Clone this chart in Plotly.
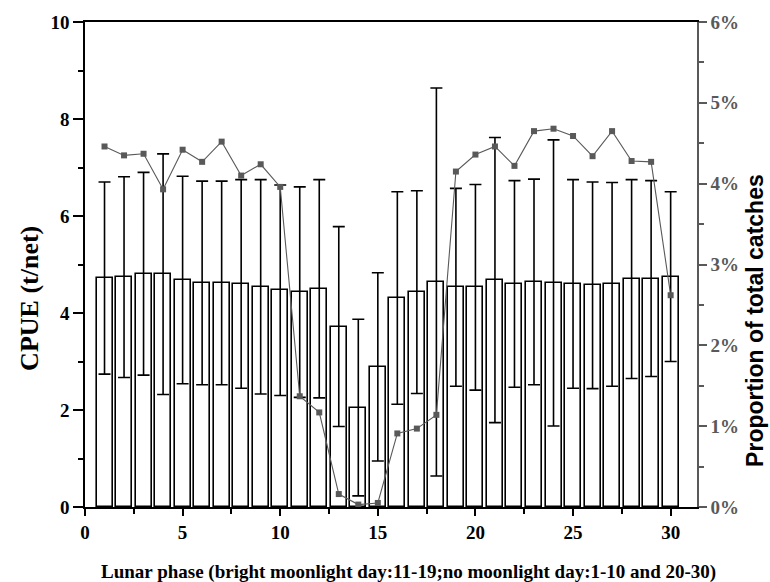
import plotly.graph_objects as go

# Lunar day of the month
days = list(range(1, 31))

# Mean CPUE (t/net) per lunar day
cpue_mean = [4.72, 4.74, 4.81, 4.80, 4.68, 4.62, 4.62, 4.60, 4.54, 4.47,
             4.43, 4.50, 3.72, 2.05, 2.89, 4.31, 4.43, 4.64, 4.53, 4.53,
             4.68, 4.60, 4.64, 4.62, 4.60, 4.57, 4.59, 4.70, 4.71, 4.75]

# Standard deviation of CPUE
cpue_sd = [1.98, 2.07, 2.09, 2.48, 2.14, 2.10, 2.10, 2.15, 2.21, 2.17,
           2.17, 2.25, 2.06, 1.82, 1.94, 2.19, 2.09, 4.00, 2.04, 2.12,
           2.94, 2.13, 2.12, 2.95, 2.15, 2.13, 2.10, 2.05, 2.02, 1.75]

# Share of total catches (%)
catch_share = [4.46, 4.35, 4.37, 3.93, 4.42, 4.27, 4.52, 4.10, 4.24, 3.96,
               1.37, 1.17, 0.16, 0.03, 0.05, 0.91, 0.97, 1.14, 4.15, 4.36,
               4.46, 4.22, 4.65, 4.68, 4.59, 4.34, 4.65, 4.28, 4.27, 2.62]

x_ticks = [0, 5, 10, 15, 20, 25, 30]
left_ticks = [0, 2, 4, 6, 8, 10]
right_ticks = [0, 0.01, 0.02, 0.03, 0.04, 0.05, 0.06]

x_title = "Lunar phase (bright moonlight day:11-19;no moonlight day:1-10 and 20-30)"
left_title = "CPUE (t/net)"
right_title = "Proportion of total catches"

SERIF = "Liberation Serif, Times New Roman, serif"
SANS = "Liberation Sans, Arial, sans-serif"
GREY = "#595959"

fig = go.Figure()

fig.add_trace(go.Bar(
    x=days, y=cpue_mean, width=0.82,
    marker=dict(color="white", line=dict(color="black", width=1.6)),
    error_y=dict(type="data", array=cpue_sd, visible=True,
                 color="black", thickness=1.6, width=6),
    showlegend=False,
))

fig.add_trace(go.Scatter(
    x=days, y=[v / 100 for v in catch_share], yaxis="y2",
    mode="lines+markers",
    line=dict(color=GREY, width=1.1),
    marker=dict(symbol="square", size=6, color=GREY),
    showlegend=False,
))

tick_font = dict(family=SERIF, size=19, color="black", weight="bold")

fig.update_layout(
    width=770, height=582,
    margin=dict(l=85, r=73, t=20, b=75),
    paper_bgcolor="white", plot_bgcolor="white",
    bargap=0,
    xaxis=dict(
        range=[0, 31.35], tickvals=x_ticks,
        ticks="outside", ticklen=7, tickwidth=1.5, tickcolor="black",
        minor=dict(dtick=2.5, tick0=0, ticks="outside", ticklen=5,
                   tickwidth=1.5, tickcolor="black"),
        showline=True, linecolor="black", linewidth=1.5, mirror=True,
        showgrid=False, zeroline=False,
        tickfont=tick_font,
    ),
    yaxis=dict(
        range=[0, 10], tickvals=left_ticks,
        ticks="outside", ticklen=10, tickwidth=1.5, tickcolor="black",
        minor=dict(dtick=1, tick0=0, ticks="outside", ticklen=5,
                   tickwidth=1.5, tickcolor="black"),
        showline=True, linecolor="black", linewidth=1.5,
        showgrid=False, zeroline=False,
        tickfont=tick_font,
    ),
    yaxis2=dict(
        overlaying="y", side="right",
        range=[0, 0.06], tickvals=right_ticks, tickformat=".0%",
        ticks="outside", ticklen=8, tickwidth=1.5, tickcolor=GREY,
        minor=dict(dtick=0.005, tick0=0, ticks="outside", ticklen=5,
                   tickwidth=1.5, tickcolor=GREY),
        showline=True, linecolor=GREY, linewidth=1.5,
        showgrid=False, zeroline=False,
        tickfont=dict(family=SERIF, size=19, color=GREY, weight="bold"),
    ),
    annotations=[
        dict(text=x_title, xref="paper", yref="paper", x=0.529, y=-0.1335,
             xanchor="center", yanchor="middle", showarrow=False,
             font=dict(family=SERIF, size=19, color="black", weight="bold")),
        dict(text=left_title, xref="paper", yref="paper", x=-0.09, y=0.431,
             xanchor="center", yanchor="middle", showarrow=False, textangle=-90,
             font=dict(family=SERIF, size=26, color="black", weight="bold")),
        dict(text=right_title, xref="paper", yref="paper", x=1.095, y=0.384,
             xanchor="center", yanchor="middle", showarrow=False, textangle=-90,
             font=dict(family=SANS, size=23, color="black", weight="bold")),
    ],
)

fig.write_html("out.html")
